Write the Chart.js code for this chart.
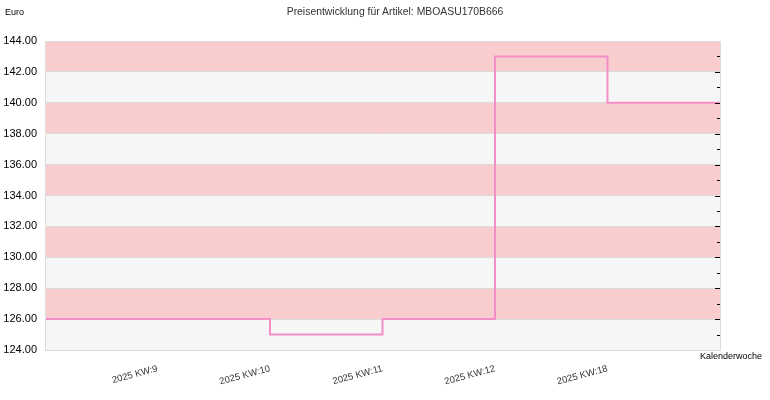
<!DOCTYPE html>
<html>
<head>
<meta charset="utf-8">
<script src="https://cdn.jsdelivr.net/npm/chart.js@4"></script>
<style>
html,body{margin:0;padding:0;background:#fff;}
#wrap{position:relative;width:770px;height:400px;font-family:"Liberation Sans",Arial,sans-serif;}
#title{position:absolute;left:0;width:790px;top:6px;text-align:center;font-size:10.4px;color:#333;}
#ylab{position:absolute;left:5px;top:7px;font-size:9px;color:#000;}
#xlab{position:absolute;left:700px;top:351px;font-size:9px;color:#000;}
canvas{position:absolute;left:0;top:0;}
</style>
</head>
<body>
<div id="wrap">
<canvas id="c" width="770" height="400"></canvas>
<div id="title">Preisentwicklung für Artikel: MBOASU170B666</div>
<div id="ylab">Euro</div>
<div id="xlab">Kalenderwoche</div>
</div>
<script>
const categories = ['', '2025 KW:9', '2025 KW:10', '2025 KW:11', '2025 KW:12', '2025 KW:18', ''];
const prices = [126, 126, 125, 126, 143, 140, 140];
const yMin = 124;
const yMax = 144;
const yStep = 2;

const bandsPlugin = {
  id: 'bands',
  beforeDraw(chart) {
    const {ctx, chartArea: a, scales: {y}} = chart;
    ctx.save();
    for (let v = yMin, i = 0; v < yMax; v += yStep, i++) {
      const top = y.getPixelForValue(v + yStep);
      const bot = y.getPixelForValue(v);
      ctx.fillStyle = (i % 2 === 0) ? '#f6f6f6' : '#f9cdcd';
      ctx.fillRect(a.left, top, a.right - a.left, bot - top);
    }
    ctx.restore();
  },
  afterDraw(chart) {
    const {ctx, chartArea: a, scales: {y}} = chart;
    ctx.save();
    ctx.strokeStyle = '#dcdcdc';
    ctx.lineWidth = 1;
    ctx.strokeRect(a.left + 0.5, a.top + 0.5, a.right - a.left, a.bottom - a.top);
    ctx.strokeStyle = '#000';
    for (let v = yMin + 1; v < yMax; v += 1) {
      const py = Math.round(y.getPixelForValue(v)) + 0.5;
      const len = (v % 2 === 0) ? 5 : 3;
      ctx.beginPath();
      ctx.moveTo(a.right - len, py);
      ctx.lineTo(a.right, py);
      ctx.stroke();
    }
    ctx.restore();
  }
};

new Chart(document.getElementById('c'), {
  type: 'line',
  data: {
    labels: categories,
    datasets: [{
      data: prices,
      stepped: 'before',
      borderColor: '#f48ec8',
      borderWidth: 2,
      pointRadius: 0,
      fill: false
    }]
  },
  options: {
    responsive: false,
    animation: false,
    layout: {padding: {top: 41, right: 50, left: 0, bottom: 0}},
    plugins: {legend: {display: false}, title: {display: false}, tooltip: {enabled: false}},
    scales: {
      x: {
        type: 'category',
        offset: false,
        grid: {display: false, drawTicks: false},
        border: {display: false},
        ticks: {
          autoSkip: false,
          maxRotation: 15,
          minRotation: 15,
          padding: 13,
          color: '#333',
          font: {family: '"Liberation Sans", Arial, sans-serif', size: 9.5}
        },
        afterFit(s) { s.height = 50; }
      },
      y: {
        min: yMin,
        max: yMax,
        grid: {color: '#dcdcdc', drawTicks: false},
        border: {display: false},
        ticks: {
          stepSize: yStep,
          padding: 8,
          color: '#000',
          font: {family: '"Liberation Sans", Arial, sans-serif', size: 11},
          callback: v => Number(v).toFixed(2)
        },
        afterFit(s) { s.width = 45; }
      }
    }
  },
  plugins: [bandsPlugin]
});
</script>
</body>
</html>
